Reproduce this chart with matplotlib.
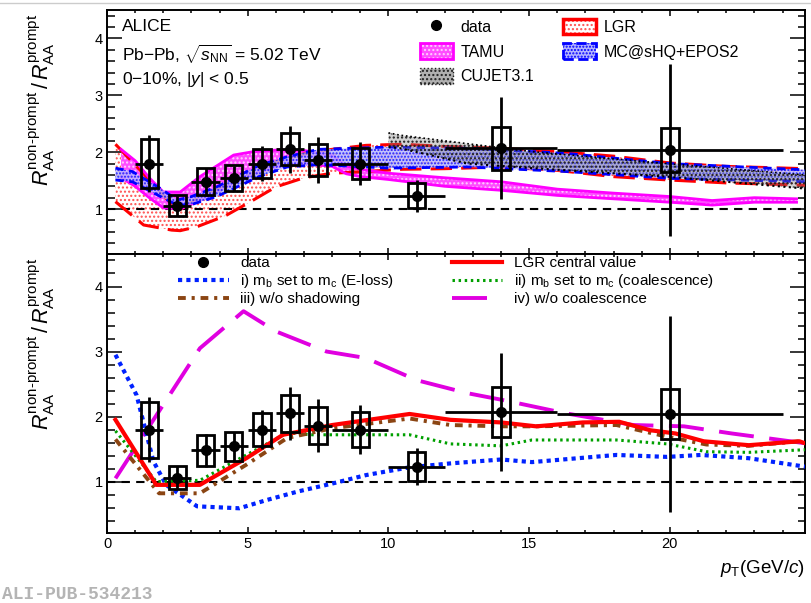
import numpy as np
import matplotlib.pyplot as plt
from matplotlib.patches import Rectangle, Patch
from matplotlib.lines import Line2D

plt.rcParams['font.family'] = ['Liberation Sans', 'DejaVu Sans']
plt.rcParams['mathtext.fontset'] = 'custom'
plt.rcParams['mathtext.rm'] = 'Liberation Sans'
plt.rcParams['mathtext.it'] = 'Liberation Sans:italic'
plt.rcParams['mathtext.bf'] = 'Liberation Sans:bold'
plt.rcParams['hatch.linewidth'] = 1.0

# ---- measured ratio (non-prompt / prompt D0 R_AA)
pt = [1.5, 2.5, 3.5, 4.5, 5.5, 6.5, 7.5, 9, 11, 14, 20]
pt_err = [0.5, 0.5, 0.5, 0.5, 0.5, 0.5, 0.5, 1, 1, 2, 4]
ratio = [1.80, 1.06, 1.48, 1.54, 1.80, 2.05, 1.86, 1.80, 1.23, 2.07, 2.04]
stat = [0.50, 0.18, 0.25, 0.22, 0.30, 0.41, 0.41, 0.38, 0.28, 0.90, 1.51]
syst = [0.43, 0.18, 0.24, 0.23, 0.25, 0.28, 0.28, 0.27, 0.22, 0.38, 0.38]
box_hw = 0.31

# ---- top panel models (bands)
lgr_x = [0.3, 1.3, 2.3, 2.6, 3.2, 4.2, 5.1, 6.0, 7.0, 8.0, 9.2, 10.5, 12, 14, 16, 18, 20, 22, 24.8]
lgr_hi = [2.14, 1.62, 1.08, 0.99, 1.18, 1.41, 1.60, 1.83, 1.97, 2.05, 2.12, 2.14, 2.10, 2.07, 2.01, 1.93, 1.81, 1.75, 1.71]
lgr_lo = [1.13, 0.72, 0.63, 0.62, 0.69, 0.88, 1.13, 1.39, 1.55, 1.63, 1.66, 1.70, 1.71, 1.74, 1.68, 1.57, 1.51, 1.46, 1.42]

tamu_x = [0.5, 1.0, 1.5, 2.0, 2.6, 3.3, 4.5, 5.2, 6.1, 7.0, 8.0, 8.5, 9.0, 10.0, 12, 14, 16, 18, 20, 21.5, 23, 24.5]
tamu_hi = [2.05, 1.85, 1.55, 1.30, 1.30, 1.57, 1.95, 2.01, 2.04, 2.03, 1.95, 1.76, 1.70, 1.63, 1.55, 1.48, 1.35, 1.28, 1.22, 1.15, 1.20, 1.18]
tamu_lo = [1.55, 1.40, 1.20, 1.02, 1.00, 1.15, 1.45, 1.62, 1.75, 1.80, 1.75, 1.62, 1.57, 1.52, 1.40, 1.33, 1.24, 1.18, 1.12, 1.07, 1.12, 1.12]

mc_x = [0.3, 0.9, 1.9, 2.5, 3.0, 3.9, 5.4, 6.4, 7.5, 10, 12.8, 16.3, 20, 24.8]
mc_hi = [1.72, 1.66, 1.36, 1.16, 1.22, 1.39, 1.77, 1.92, 2.05, 2.09, 2.07, 1.98, 1.80, 1.69]
mc_lo = [1.51, 1.48, 1.22, 1.07, 1.08, 1.22, 1.57, 1.74, 1.78, 1.72, 1.74, 1.66, 1.54, 1.48]

cujet_x = [10, 10.4, 12.8, 15.1, 19.9, 24.8]
cujet_hi = [2.34, 2.30, 2.15, 2.01, 1.80, 1.60]
cujet_lo = [2.09, 2.07, 1.80, 1.72, 1.57, 1.36]

# ---- bottom panel: LGR variations
lgr_c_x = [0.3, 1.75, 3.3, 4.95, 6.25, 8.0, 10.75, 12.2, 14, 15.25, 16.9, 18.2, 19.3, 20.2, 21.2, 22.8, 24.6, 24.8]
lgr_c = [1.95, 0.95, 0.95, 1.36, 1.72, 1.87, 2.04, 1.95, 1.91, 1.85, 1.91, 1.92, 1.79, 1.74, 1.62, 1.56, 1.62, 1.59]
eloss_x = [0.3, 1.05, 1.65, 2.1, 3.2, 4.7, 5.7, 6.8, 8.0, 9.2, 10.75, 12.2, 14, 15.1, 18.1, 19.9, 21.1, 22.8, 24.8]
eloss = [2.95, 2.33, 1.31, 0.95, 0.62, 0.59, 0.72, 0.85, 0.97, 1.10, 1.22, 1.28, 1.34, 1.30, 1.41, 1.38, 1.41, 1.36, 1.23]
coal_x = [0.3, 1.75, 3.3, 4.95, 6.4, 7.3, 10.75, 12.2, 14, 15.1, 18.1, 19.9, 21.3, 22.8, 24.8]
coal = [1.78, 1.00, 1.02, 1.41, 1.75, 1.72, 1.72, 1.58, 1.55, 1.64, 1.64, 1.58, 1.46, 1.45, 1.49]
noshad_x = [0.3, 1.85, 3.3, 4.95, 6.4, 8.0, 10.75, 12.2, 14, 15.2, 18.1, 19.9, 21.3, 22.8, 24.6]
noshad = [1.65, 0.82, 0.82, 1.26, 1.67, 1.82, 1.97, 1.87, 1.85, 1.85, 1.87, 1.69, 1.57, 1.55, 1.62]
nocoal_x = [0.3, 3.3, 4.85, 6.0, 7.8, 9.2, 11.0, 12.8, 14, 16.3, 18.7, 20.5, 22.2, 24.8]
nocoal = [1.05, 3.05, 3.62, 3.31, 3.00, 2.90, 2.56, 2.36, 2.26, 2.05, 1.87, 1.85, 1.74, 1.59]

XMAX = 24.8
YLIM = (0.21, 4.5)

fig = plt.figure(figsize=(8.12, 6.03), dpi=100)
ax1 = fig.add_axes([0.1318, 0.5788, 0.8596, 0.4046])
ax2 = fig.add_axes([0.1318, 0.1161, 0.8596, 0.4627])

ylab = r"$R_{\rm AA}^{\rm non\text{-}prompt}\,/\,R_{\rm AA}^{\rm prompt}$"


def style_axes(ax):
    ax.set_xlim(0, XMAX)
    ax.set_ylim(*YLIM)
    ax.set_xticks([0, 5, 10, 15, 20])
    ax.set_xticks(np.arange(0, 25, 1), minor=True)
    ax.set_yticks([1, 2, 3, 4])
    ax.set_yticks(np.arange(0.4, 4.5, 0.2), minor=True)
    ax.tick_params(axis='both', which='both', direction='in', top=True, right=True,
                   width=1.1, labelsize=10.5, pad=3)
    ax.tick_params(axis='y', which='major', length=10.8)
    ax.tick_params(axis='y', which='minor', length=5.4)
    ax.tick_params(axis='x', which='major', length=4.5)
    ax.tick_params(axis='x', which='minor', length=2.3)
    for s in ax.spines.values():
        s.set_linewidth(1.4)
    ax.axhline(1, color='black', ls=(0, (4, 3)), lw=1.5, zorder=2)
    ax.set_ylabel(ylab, fontsize=15.5, loc='top')
    ax.yaxis.set_label_coords(-0.072, 0.985)


def draw_data(ax):
    for x, y, s in zip(pt, ratio, syst):
        ax.add_patch(Rectangle((x - box_hw, y - s), 2 * box_hw, 2 * s, fill=False,
                               ec='black', lw=2, zorder=6))
    ax.errorbar(pt, ratio, xerr=pt_err, yerr=stat, fmt='o', color='black', ms=7,
                elinewidth=2, capsize=0, zorder=7)


# ---------------- top panel
style_axes(ax1)
ax1.tick_params(labelbottom=False)

ax1.fill_between(lgr_x, lgr_lo, lgr_hi, facecolor='white', edgecolor='#ff5050',
                 hatch='....', lw=0, zorder=1)
ax1.plot(lgr_x, lgr_hi, color='red', lw=2.2, ls=(0, (7, 3)), zorder=3)
ax1.plot(lgr_x, lgr_lo, color='red', lw=2.2, ls=(0, (7, 3)), zorder=3)

ax1.fill_between(tamu_x, tamu_lo, tamu_hi, facecolor='#ff4dff', edgecolor='#ffd0ff',
                 hatch='....', lw=0, zorder=2)
ax1.plot(tamu_x, tamu_hi, color='magenta', lw=2, zorder=3)
ax1.plot(tamu_x, tamu_lo, color='magenta', lw=2, zorder=3)

ax1.fill_between(mc_x, mc_lo, mc_hi, facecolor='#b4b4ff', edgecolor='blue',
                 hatch='.....', lw=0, alpha=0.8, zorder=3)
ax1.plot(mc_x, mc_hi, color='blue', lw=2, ls=(0, (3, 2)), zorder=4)
ax1.plot(mc_x, mc_lo, color='blue', lw=2, ls=(0, (3, 2)), zorder=4)

ax1.fill_between(cujet_x, cujet_lo, cujet_hi, facecolor=(0.5, 0.5, 0.5, 0.35),
                 edgecolor='#202020', hatch='....', lw=0, zorder=4.5)
ax1.plot(cujet_x, cujet_hi, color='black', lw=1.2, ls=':', zorder=4.6)
ax1.plot(cujet_x, cujet_lo, color='black', lw=1.5, ls=':', zorder=4.6)

draw_data(ax1)

ax1.text(0.022, 0.965, "ALICE", transform=ax1.transAxes, fontsize=12.5, va='top')
ax1.text(0.022, 0.865, r"Pb$-$Pb, $\sqrt{s_{\rm NN}}$ = 5.02 TeV", transform=ax1.transAxes,
         fontsize=12.5, va='top')
ax1.text(0.022, 0.755, r"0$-$10%, $|y|$ < 0.5", transform=ax1.transAxes, fontsize=12.5, va='top')

h_data = Line2D([], [], marker='o', color='black', ls='none', ms=7)
h_tamu = (Patch(facecolor='#ff4dff', edgecolor='#ffd0ff', hatch='....', lw=0),
          Patch(facecolor='none', edgecolor='magenta', lw=2))
h_cujet = Patch(facecolor='#b0b0b0', edgecolor='#202020', hatch='....', lw=1, ls=':')
h_lgr = (Patch(facecolor='white', edgecolor='#ff5050', hatch='....', lw=0),
         Patch(facecolor='none', edgecolor='red', lw=2.5))
h_mc = (Patch(facecolor='#b4b4ff', edgecolor='blue', hatch='.....', lw=0),
        Patch(facecolor='none', edgecolor='blue', lw=2, ls='--'))

leg_kw = dict(frameon=False, fontsize=11.5, handlelength=2.1, handleheight=1.1,
              handletextpad=0.45, labelspacing=0.55, borderpad=0, borderaxespad=0)
leg1 = ax1.legend([h_data, h_tamu, h_cujet], ["data", "TAMU", "CUJET3.1"],
                  loc='upper left', bbox_to_anchor=(0.448, 0.965), **leg_kw)
ax1.add_artist(leg1)
ax1.legend([h_lgr, h_mc], ["LGR", "MC@sHQ+EPOS2"],
           loc='upper left', bbox_to_anchor=(0.653, 0.965), **leg_kw)

# ---------------- bottom panel
style_axes(ax2)

ax2.plot(nocoal_x, nocoal, color='#e000e0', lw=2.8, ls=(0, (9, 4)), zorder=3, label="iv) w/o coalescence")
ax2.plot(eloss_x, eloss, color='#0022ff', lw=3, ls=(0, (1, 1)), zorder=3,
         label=r"i) m$_{\rm b}$ set to m$_{\rm c}$ (E-loss)")
ax2.plot(coal_x, coal, color='#00a000', lw=2.2, ls=(0, (0.8, 1.2)), zorder=3,
         label=r"ii) m$_{\rm b}$ set to m$_{\rm c}$ (coalescence)")
ax2.plot(noshad_x, noshad, color='#8b4513', lw=2.8, ls=(0, (2, 1.5, 0.8, 1.5)), zorder=3,
         label="iii) w/o shadowing")
ax2.plot(lgr_c_x, lgr_c, color='red', lw=3, zorder=4, label="LGR central value")

draw_data(ax2)

hs, ls_ = ax2.get_legend_handles_labels()
lab_map = dict(zip(ls_, hs))
leg_kw2 = dict(frameon=False, fontsize=11, handlelength=3.3, handletextpad=0.75,
               labelspacing=0.12, borderpad=0, borderaxespad=0)
left_labels = ["data", r"i) m$_{\rm b}$ set to m$_{\rm c}$ (E-loss)", "iii) w/o shadowing"]
right_labels = ["LGR central value", r"ii) m$_{\rm b}$ set to m$_{\rm c}$ (coalescence)", "iv) w/o coalescence"]
leg3 = ax2.legend([h_data, lab_map[left_labels[1]], lab_map[left_labels[2]]], left_labels,
                  loc='upper left', bbox_to_anchor=(0.102, 0.992), **leg_kw2)
ax2.add_artist(leg3)
ax2.legend([lab_map[l] for l in right_labels], right_labels,
           loc='upper left', bbox_to_anchor=(0.494, 0.992), **leg_kw2)

fig.text(0.991, 0.058, r"$p_{\rm T}$(GeV/$c$)", ha='right', va='center', fontsize=13.5)
fig.text(0.002, 0.014, "ALI-PUB-534213", fontsize=13, family='Liberation Mono',
         weight='bold', color='#b4b4b4', va='center')
fig.add_artist(Line2D([0, 1], [0.995, 0.995], color='#cccccc', lw=1))

fig.savefig("out.png", dpi=100)
